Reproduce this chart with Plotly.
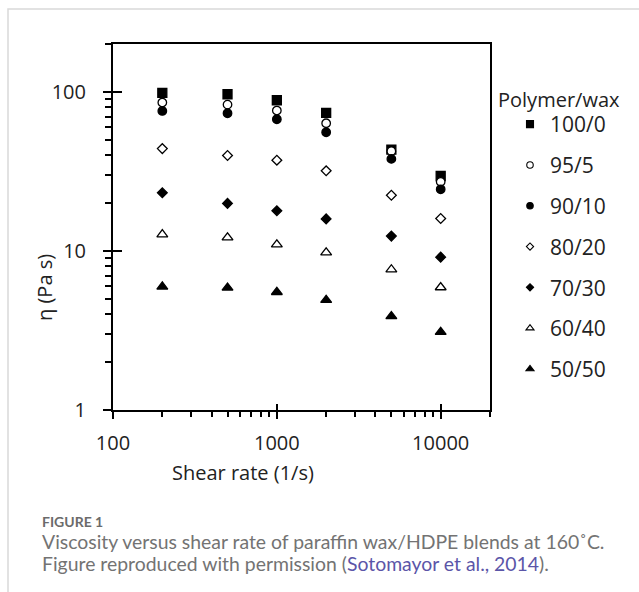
import plotly.graph_objects as go

# ---- data ----
shear_rate = [200, 500, 1000, 2000, 5000, 10000]
series_names = ["100/0", "95/5", "90/10", "80/20", "70/30", "60/40", "50/50"]
v100_0 = [98.5, 96.6, 88.6, 73.7, 43.4, 29.6]
v95_5 = [85.7, 83.2, 76.3, 63.5, 42.4, 27.2]
v90_10 = [75.9, 73.4, 67.3, 55.7, 37.9, 24.4]
v80_20 = [44.0, 39.8, 37.2, 31.9, 22.4, 16.0]
v70_30 = [23.2, 19.9, 17.9, 15.9, 12.4, 9.14]
v60_40 = [12.7, 12.15, 10.98, 9.78, 7.65, 5.9]
v50_50 = [5.96, 5.87, 5.51, 4.91, 3.88, 3.09]
x_tickvals = [100, 1000, 10000]
x_ticktext = ["100", "1000", "10000"]
y_tickvals = [1, 10, 100]
y_ticktext = ["1", "10", "100"]

values = [v100_0, v95_5, v90_10, v80_20, v70_30, v60_40, v50_50]
# (symbol, fill, plot size, legend size)
styles = [
    ("square", "black", 9, 7),
    ("circle", "white", 8.5, 6.5),
    ("circle", "black", 8.5, 6.5),
    ("diamond", "white", 7.5, 5.5),
    ("diamond", "black", 7.5, 5.5),
    ("triangle-up", "white", 9.5, 7),
    ("triangle-up", "black", 9.5, 7),
]

W, H = 639, 592
L, R, T, B = 113, 490, 44, 410
PW, PH = R - L, B - T


def px(x):
    return (x - L) / PW


def py(y):
    return (B - y) / PH


fig = go.Figure()
for i, (name, vals, (sym, fill, size, lsize)) in enumerate(zip(series_names, values, styles)):
    fig.add_trace(go.Scatter(
        x=shear_rate, y=vals, mode="markers", name=name, showlegend=False,
        marker=dict(symbol=sym, size=size, color=fill, line=dict(color="black", width=1.3)),
    ))
    # legend-only entry with the smaller legend symbol
    fig.add_trace(go.Scatter(
        x=[None], y=[None], mode="markers", name=name, legendgroup=name,
        marker=dict(symbol=sym, size=lsize, color=fill, line=dict(color="black", width=1.1)),
    ))

# invisible trace so the overlay axes (crossing part of major ticks) render
fig.add_trace(go.Scatter(x=[None], y=[None], xaxis="x2", yaxis="y2",
                         showlegend=False, hoverinfo="skip"))

tick_font = dict(family="Open Sans", size=20, color="#222")
xr = [2, 4.30103]
yr = [0, 2.30103]

x_minor = [m * d for d in (100, 1000) for m in range(2, 10)] + [20000]
y_minor = [m * d for d in (1, 10) for m in range(2, 10)] + [200]

fig.update_layout(
    width=W, height=H,
    margin=dict(l=L, r=W - R, t=T, b=H - B, autoexpand=False),
    paper_bgcolor="white", plot_bgcolor="white",
    xaxis=dict(
        type="log", range=xr, tickvals=x_tickvals, ticktext=x_ticktext,
        ticks="outside", ticklen=7, tickwidth=2, tickcolor="black",
        showline=True, linewidth=2, linecolor="black", mirror=True,
        showgrid=False, zeroline=False, tickfont=tick_font, ticklabelstandoff=7,
        minor=dict(tickmode="array", tickvals=x_minor, ticks="outside", ticklen=5,
                   tickwidth=1.5, tickcolor="black", showgrid=False),
    ),
    yaxis=dict(
        type="log", range=yr, tickvals=y_tickvals, ticktext=y_ticktext,
        ticks="outside", ticklen=8, tickwidth=2, tickcolor="black",
        showline=True, linewidth=2, linecolor="black", mirror=True,
        showgrid=False, zeroline=False, tickfont=tick_font, ticklabelstandoff=13,
        minor=dict(tickmode="array", tickvals=y_minor, ticks="outside", ticklen=6,
                   tickwidth=1.5, tickcolor="black", showgrid=False),
    ),
    xaxis2=dict(
        type="log", range=xr, overlaying="x", anchor="y", side="bottom",
        tickvals=x_tickvals, ticks="inside", ticklen=6, tickwidth=2, tickcolor="black",
        showticklabels=False, showline=False, showgrid=False, zeroline=False,
    ),
    yaxis2=dict(
        type="log", range=yr, overlaying="y", anchor="x", side="left",
        tickvals=y_tickvals, ticks="inside", ticklen=9, tickwidth=2, tickcolor="black",
        showticklabels=False, showline=False, showgrid=False, zeroline=False,
    ),
    legend=dict(
        x=px(510), xanchor="left", y=py(104), yanchor="top",
        font=dict(family="Open Sans", size=21, color="#222"),
        tracegroupgap=10.5, bgcolor="rgba(0,0,0,0)", borderwidth=0,
        itemwidth=30,
    ),
    showlegend=True,
)

ann = []
ann.append(dict(text="Polymer/wax", x=px(496), y=py(100), xref="paper", yref="paper",
                xanchor="left", yanchor="middle", showarrow=False,
                font=dict(family="Open Sans", size=20, color="#222")))
ann.append(dict(text="Shear rate (1/s)", x=px(243), y=py(472), xref="paper", yref="paper",
                xanchor="center", yanchor="middle", showarrow=False,
                font=dict(family="Open Sans", size=20, color="#222")))
ann.append(dict(text="η (Pa s)", x=px(44), y=py(288), xref="paper", yref="paper",
                xanchor="center", yanchor="middle", showarrow=False, textangle=-90,
                font=dict(family="Open Sans", size=20, color="#222")))
cap_font = dict(family="Lato", size=19.4, color="#737373")
ann.append(dict(text="<b>FIGURE 1</b>", x=px(40), y=py(521), xref="paper", yref="paper",
                xanchor="left", yanchor="middle", showarrow=False,
                font=dict(family="Lato", size=14, color="#6b6b6b")))
ann.append(dict(text="Viscosity versus shear rate of paraffin wax/HDPE blends at 160˚C.",
                x=px(40), y=py(541), xref="paper", yref="paper",
                xanchor="left", yanchor="middle", showarrow=False, font=cap_font))
ann.append(dict(text='Figure reproduced with permission (<span style="color:#5b55a8">Sotomayor et al., 2014</span>).',
                x=px(40), y=py(563), xref="paper", yref="paper",
                xanchor="left", yanchor="middle", showarrow=False, font=cap_font))
fig.update_layout(annotations=ann)

# light frame around the whole figure panel
fig.add_shape(type="rect", xref="paper", yref="paper",
              x0=px(8), x1=px(700), y0=py(700), y1=py(9),
              line=dict(color="#d9d9d9", width=1.5), fillcolor="rgba(0,0,0,0)", layer="below")

fig.write_html("out.html")
